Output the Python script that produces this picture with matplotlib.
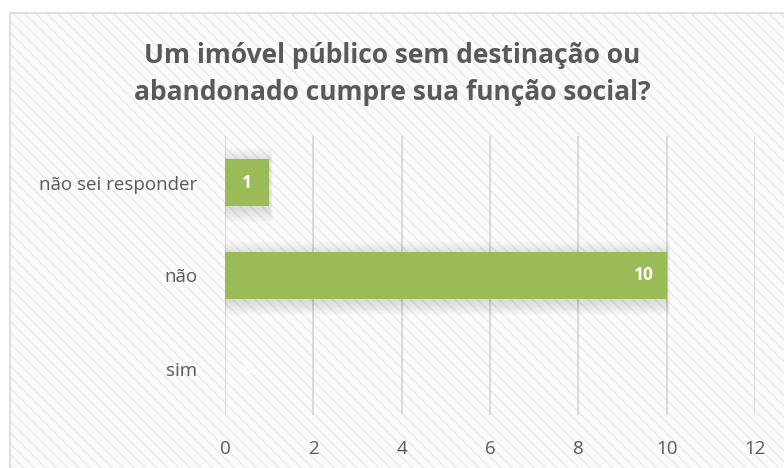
import matplotlib
matplotlib.use("Agg")
import matplotlib.pyplot as plt
from matplotlib.patches import Rectangle

categories = ["sim", "não", "não sei responder"]
values = [0, 10, 1]
xticks = [0, 2, 4, 6, 8, 10, 12]

W, H = 784, 468
fig = plt.figure(figsize=(W / 100, H / 100), dpi=100)
fig.patch.set_facecolor("white")

plt.rcParams["hatch.linewidth"] = 1.2
frame = Rectangle((10 / W, 0), 1.0, 1 - 13 / H, transform=fig.transFigure,
                  facecolor="#fbfbfb", edgecolor="#ececec", hatch="\\\\\\",
                  linewidth=0, zorder=-2)
fig.patches.append(frame)
border = Rectangle((10 / W, -0.01), 1.0, 1 - 13 / H + 0.01, transform=fig.transFigure,
                   facecolor="none", edgecolor="#d9d9d9", linewidth=1.2, zorder=-1)
fig.patches.append(border)

ax = fig.add_axes([225 / W, 1 - 415 / H, (755 - 225) / W, (415 - 136) / H])
ax.patch.set_alpha(0)

green = "#9bbb59"
pos = list(range(len(categories)))
# soft shadow, slightly below the bars
n = 10
for k in range(n):
    ax.barh([p - 0.03 for p in pos], [v + 0.08 * (n - k) / n if v > 0 else 0 for v in values],
            height=0.5 + 0.3 * (n - k) / n, left=0, color="black",
            alpha=0.012, zorder=1, linewidth=0)
ax.barh(pos, values, height=0.5, color=green, zorder=3)

ax.set_xlim(0, 12)
ax.set_ylim(-0.5, 2.5)
ax.set_xticks(xticks)
ax.set_yticks(pos)
ax.set_yticklabels(categories)
ax.grid(axis="x", color="#d4d4d4", linewidth=1.2, zorder=0)
ax.set_axisbelow(True)
for s in ax.spines.values():
    s.set_visible(False)
ax.tick_params(length=0, labelsize=13.5, labelcolor="#595959")
ax.tick_params(axis="y", pad=20)
ax.tick_params(axis="x", pad=18)
for lab in ax.get_xticklabels() + ax.get_yticklabels():
    lab.set_family("Open Sans")

for i, v in enumerate(values):
    if v >= 10:
        ax.text(v - 0.3, i, str(v), ha="right", va="center", color="white",
                fontsize=12.5, fontweight="bold", family="Open Sans", zorder=4)
    else:
        ax.text(0.5, i, str(v), ha="center", va="center", color="white",
                fontsize=12.5, fontweight="bold", family="Open Sans", zorder=4)

fig.text(0.5, 1 - 74 / H, "Um imóvel público sem destinação ou\nabandonado cumpre sua função social?",
         ha="center", va="center", fontsize=19, fontweight="bold", color="#595959",
         family="Open Sans", linespacing=1.45)

fig.savefig("out.png", dpi=100)
